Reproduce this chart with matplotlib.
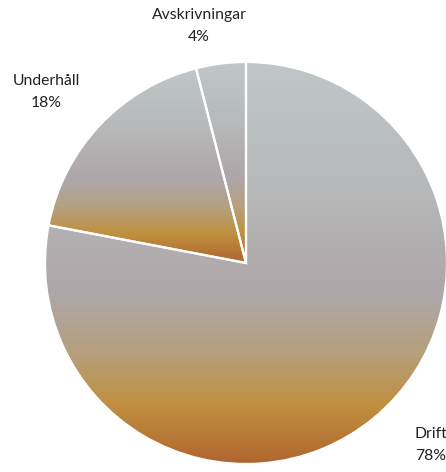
import numpy as np
import matplotlib.pyplot as plt
from matplotlib.colors import LinearSegmentedColormap

# ── Data ──────────────────────────────────────────────────────────────────────
LABELS = ["Drift", "Underhåll", "Avskrivningar"]
SHARES = [78, 18, 4]
PCT_TEXT = ["78%", "18%", "4%"]

# ── Figure (1 data unit = 1 pixel) ────────────────────────────────────────────
W, H = 446, 472
fig = plt.figure(figsize=(W / 100, H / 100), dpi=100)
ax = fig.add_axes([0, 0, 1, 1])

CX, CY, R = 246, H - 263, 201

wedges, _ = ax.pie(SHARES, startangle=90, counterclock=False,
                   center=(CX, CY), radius=R, frame=True,
                   wedgeprops=dict(edgecolor="white", linewidth=1.6))

# grey at the top of each slice, fading to amber/brown at the bottom
cmap = LinearSegmentedColormap.from_list("grad", [
    (0.00, "#c0c7c8"),
    (0.30, "#b7b9ba"),
    (0.58, "#aea6a8"),
    (0.72, "#b5a07e"),
    (0.85, "#c0903f"),
    (1.00, "#b0652f"),
])
grad = np.linspace(0, 1, 256).reshape(-1, 1)

for w in wedges:
    w.set_facecolor("none")
    verts = w.get_patch_transform().transform(w.get_path().vertices)
    x0, x1 = verts[:, 0].min(), verts[:, 0].max()
    y0, y1 = verts[:, 1].min(), verts[:, 1].max()
    im = ax.imshow(grad, cmap=cmap, aspect="auto", origin="upper",
                   extent=(x0, x1, y0, y1), zorder=0.5, interpolation="bilinear")
    im.set_clip_path(w)
    w.set_zorder(1)

ax.set_xlim(0, W)
ax.set_ylim(0, H)
ax.set_axis_off()

# ── Labels ────────────────────────────────────────────────────────────────────
font = dict(family=["Lato", "DejaVu Sans"], fontsize=11.3, color="#222222",
            ha="center", va="center", linespacing=1.65)
label_pos = [(431, H - 445), (46, H - 92), (199, H - 26)]
for lab, pct, (x, y) in zip(LABELS, PCT_TEXT, label_pos):
    ax.text(x, y, f"{lab}\n{pct}", **font)

fig.savefig("out.png", dpi=100)
plt.close()
